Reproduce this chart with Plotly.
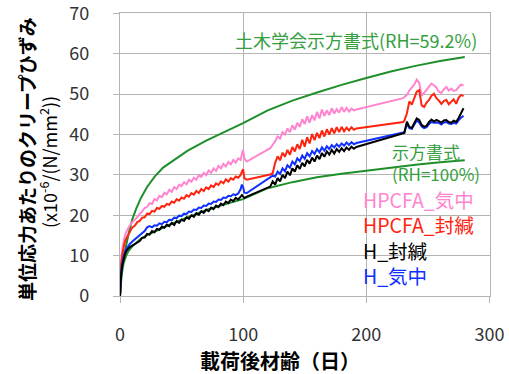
import plotly.graph_objects as go

# ---------------- data ----------------
days_a = [0, 0.5, 1, 2, 3, 4, 5, 6, 8, 10,
          12, 14, 16, 18, 20, 22, 24, 26, 28, 30,
          32, 34, 36, 38, 40, 42, 44, 46, 48, 50,
          52, 54, 56, 58, 60, 62, 64, 66, 68, 70,
          72, 74, 76, 78, 80, 82, 84, 86, 88, 90,
          92, 94, 96, 98, 99, 100, 101, 103]
days_b = [122, 124, 126, 128, 130, 132, 134, 136, 138, 140,
          142, 144, 146, 148, 150, 152, 154, 156, 158, 160,
          162, 164, 166, 168, 170, 172, 174, 176, 178, 180,
          182, 184, 186, 188, 190, 192]
days_c = [230, 231, 233, 235, 237, 239, 241, 243, 245, 247,
          249, 251, 253, 255, 257, 259, 261, 263, 265, 267,
          269, 271, 273, 275, 277, 279]

pink_a = [0, 6, 9, 12, 14, 15, 15.8, 16.5, 17.5, 18.3,
          18.9, 19.5, 20.4, 20.9, 21.8, 22.1, 23.0, 22.8, 24.0, 23.7,
          24.8, 24.5, 25.6, 25.2, 26.3, 25.8, 27.0, 26.5, 27.6, 27.2,
          28.2, 27.7, 28.8, 28.3, 29.3, 28.8, 29.9, 29.5, 30.5, 29.9,
          31.1, 30.5, 31.6, 31.0, 32.2, 31.6, 32.7, 32.1, 33.2, 32.6,
          33.7, 33.0, 34.1, 33.7, 35.2, 36.2, 34.0, 33.3]
pink_b = [36.6, 37.4, 38.3, 39.5, 39.0, 40.6, 40.0, 41.5, 40.6, 42.3,
          41.2, 42.9, 41.9, 43.8, 42.6, 44.5, 42.9, 44.8, 43.5, 45.6,
          44.0, 46.2, 44.6, 46.0, 44.8, 46.5, 45.2, 46.3, 45.4, 46.8,
          45.6, 46.6, 45.7, 46.4, 46.0, 46.2]
pink_c = [49.0, 49.3, 49.8, 50.9, 51.6, 52.4, 53.6, 52.8, 49.6, 50.4,
          51.2, 51.8, 52.6, 52.2, 51.6, 50.6, 50.3, 51.2, 51.8, 50.9,
          51.4, 50.8, 51.0, 51.7, 52.4, 52.1]

red_a = [0, 5, 8, 10.5, 12.5, 13.5, 14.2, 14.8, 16.0, 17.0,
         17.4, 18.3, 18.6, 19.4, 19.5, 20.4, 20.3, 21.1, 20.9, 21.8,
         21.6, 22.3, 22.1, 22.8, 22.6, 23.4, 23.1, 24.0, 23.6, 24.4,
         24.1, 25.0, 24.6, 25.5, 25.1, 26.0, 25.5, 26.5, 26.0, 26.9,
         26.5, 27.4, 27.0, 27.9, 27.5, 28.4, 27.9, 28.9, 28.3, 29.2,
         28.8, 29.6, 29.3, 30.0, 30.8, 31.4, 29.2, 28.8]
red_b = [30.1, 30.4, 33.0, 34.6, 33.6, 35.5, 34.5, 36.2, 35.0, 36.9,
         35.8, 37.6, 36.4, 38.7, 37.0, 39.3, 37.8, 40.1, 38.6, 40.4,
         39.1, 41.0, 39.5, 41.3, 40.0, 41.6, 40.3, 41.8, 40.6, 41.9,
         40.8, 41.7, 41.0, 41.8, 41.2, 41.5]
red_c = [43.1, 43.5, 45.2, 48.2, 47.4, 48.8, 50.6, 51.0, 47.2, 46.8,
         47.9, 48.6, 49.6, 50.1, 49.0, 48.4, 47.6, 48.3, 48.6, 47.5,
         48.1, 48.7, 47.6, 49.1, 49.8, 49.5]

blue_a = [0, 4, 6.3, 8.5, 10.0, 11.0, 11.6, 12.1, 12.9, 13.5,
          14.0, 14.5, 15.0, 15.6, 16.1, 17.0, 17.3, 17.0, 17.5, 17.4,
          18.0, 17.8, 18.4, 18.3, 18.9, 18.8, 19.4, 19.3, 19.9, 19.8,
          20.4, 20.3, 20.9, 20.8, 21.4, 21.3, 21.9, 21.8, 22.4, 22.3,
          22.9, 22.8, 23.4, 23.3, 23.9, 23.8, 24.4, 24.3, 24.8, 24.7,
          25.2, 25.0, 25.4, 26.5, 27.6, 27.0, 25.6, 25.5]
blue_b = [29.3, 29.8, 29.6, 30.8, 30.2, 31.6, 30.9, 32.4, 31.8, 33.3,
          32.6, 34.1, 33.4, 34.8, 34.0, 35.4, 34.6, 35.9, 35.2, 36.4,
          35.6, 36.8, 36.0, 37.1, 36.4, 37.4, 36.8, 37.6, 37.0, 37.8,
          37.2, 38.0, 37.4, 38.1, 37.6, 37.9]
blue_c = [40.5, 40.7, 42.6, 41.6, 41.4, 42.4, 43.5, 43.0, 42.0, 41.6,
          41.8, 42.6, 43.1, 42.9, 43.0, 42.9, 42.5, 43.0, 43.1, 42.7,
          42.6, 42.9, 42.7, 43.5, 44.2, 44.6]

black_a = [0, 3.5, 5.5, 7.8, 9.3, 10.4, 11.0, 11.5, 12.1, 12.5,
           12.7, 13.3, 13.6, 14.4, 14.5, 15.4, 15.2, 16.1, 15.8, 16.6,
           16.4, 17.2, 16.9, 17.7, 17.3, 18.1, 17.6, 18.6, 18.1, 18.9,
           18.6, 19.5, 19.1, 20.0, 19.6, 20.5, 20.1, 21.0, 20.6, 21.4,
           21.0, 21.9, 21.5, 22.4, 22.0, 22.9, 22.5, 23.4, 23.0, 23.9,
           23.5, 24.3, 23.9, 24.6, 25.0, 24.6, 24.3, 24.6]
black_b = [27.1, 28.4, 27.6, 29.2, 28.4, 30.0, 29.2, 30.8, 29.9, 31.6,
           30.8, 32.4, 31.5, 33.0, 32.1, 33.7, 32.8, 34.3, 33.3, 34.8,
           33.9, 35.4, 34.5, 35.8, 35.0, 36.2, 35.3, 36.4, 35.7, 36.6,
           35.9, 36.8, 36.2, 37.0, 36.5, 36.9]
black_c = [40.2, 40.4, 43.2, 41.9, 41.6, 42.9, 44.0, 43.6, 42.4, 41.9,
           42.2, 43.1, 43.7, 43.2, 43.6, 43.3, 42.9, 43.5, 43.6, 43.1,
           42.9, 43.4, 43.1, 44.1, 45.2, 46.5]

green_days = [0, 0.5, 1, 2, 3, 5, 7, 10, 13, 17, 22, 28, 35, 45, 55, 70, 85,
              100, 120, 140, 160, 180, 200, 220, 240, 260, 280]
green_rh59 = [0, 3.5, 5.5, 7.5, 9.5, 12.5, 15.5, 19.0, 21.5, 24.3, 27.0, 29.5,
              31.8, 34.0, 36.0, 38.5, 40.7, 42.8, 46.0, 48.4, 50.4, 52.3,
              54.0, 55.6, 57.0, 58.2, 59.2]
green_rh100 = [0, 2.5, 4.0, 6.5, 8.2, 10.0, 11.2, 12.3, 13.2, 14.2, 15.1, 16.0,
               16.9, 18.3, 19.5, 21.3, 22.7, 24.0, 26.7, 28.2, 29.4, 30.3,
               31.0, 31.8, 32.5, 33.1, 33.6]

x_ticks = [0, 100, 200, 300]
y_ticks = [0, 10, 20, 30, 40, 50, 60, 70]

# ---------------- styles ----------------
C_GREEN = "#1F8F2A"
C_GREEN_TXT = "#35A040"
C_PINK = "#FF85D0"
C_RED = "#FF2410"
C_BLUE = "#1030FF"
C_BLACK = "#000000"
GRID = "#B4B4B4"
FONT = "Noto Sans CJK JP"

fig = go.Figure()

def add(xs, ys, color, width=2):
    fig.add_trace(go.Scatter(x=xs, y=ys, mode="lines",
                             line=dict(color=color, width=width),
                             showlegend=False, hoverinfo="skip"))

add(green_days, green_rh59, C_GREEN)
add(green_days, green_rh100, C_GREEN)
add(days_a + days_b + days_c, pink_a + pink_b + pink_c, C_PINK)
add(days_a + days_b + days_c, red_a + red_b + red_c, C_RED)
add(days_a + days_b + days_c, blue_a + blue_b + blue_c, C_BLUE)
add(days_a + days_b + days_c, black_a + black_b + black_c, C_BLACK)

# pixel helpers (plot area: x 120..490, y 13..296)
L, R, T, B = 120, 490, 13, 296
def px(x):
    return (x - L) / (R - L)
def py(y):
    return (B - y) / (B - T)

legend_text = "<br>".join([
    f'<span style="color:{C_PINK}">HPCFA_気中</span>',
    f'<span style="color:{C_RED}">HPCFA_封緘</span>',
    f'<span style="color:{C_BLACK}">H_封緘</span>',
    f'<span style="color:{C_BLUE}">H_気中</span>',
])

annotations = [
    dict(text="土木学会示方書式(RH=59.2%)", x=px(233), y=py(40), xanchor="left",
         font=dict(size=18, color=C_GREEN_TXT)),
    dict(text="示方書式<br>(RH=100%)", x=px(390), y=py(162), xanchor="left",
         align="left", font=dict(size=17, color=C_GREEN_TXT)),
    dict(text=legend_text, x=px(361), y=py(237), xanchor="left", align="left",
         font=dict(size=19.5, color=C_BLACK)),
    dict(text="<b>単位応力あたりのクリープひずみ</b>", x=px(26), y=py(159),
         textangle=-90, font=dict(size=19, color="#000000")),
    dict(text="(x10<sup>-6</sup>/(N/mm<sup>2</sup>))", x=px(48), y=py(162),
         textangle=-90, font=dict(size=18, color="#000000")),
    dict(text="<b>載荷後材齢（日）</b>", x=px(280), y=py(360),
         font=dict(size=20, color="#000000")),
]
for a in annotations:
    a.update(xref="paper", yref="paper", showarrow=False, yanchor="middle")
    a.setdefault("xanchor", "center")

axis_common = dict(showgrid=True, gridcolor=GRID, gridwidth=1.3,
                   showline=True, linecolor=GRID, linewidth=1.3, mirror=True,
                   zeroline=False, ticks="outside", ticklen=6, tickcolor=GRID,
                   tickwidth=1.3, automargin=False,
                   tickfont=dict(family=FONT, size=18, color="#333333"))

fig.update_layout(
    width=509, height=374,
    margin=dict(l=L, r=509 - R, t=T, b=374 - B, autoexpand=False),
    paper_bgcolor="white", plot_bgcolor="white",
    font=dict(family=FONT),
    annotations=annotations,
    xaxis=dict(range=[0, 300.5], tickvals=x_ticks, ticklabelstandoff=16,
               ticklabeloverflow="allow", **axis_common),
    yaxis=dict(range=[0, 70.1], tickvals=y_ticks, ticklabelstandoff=20,
               ticklabeloverflow="allow", **axis_common),
)

fig.write_html("out.html")
